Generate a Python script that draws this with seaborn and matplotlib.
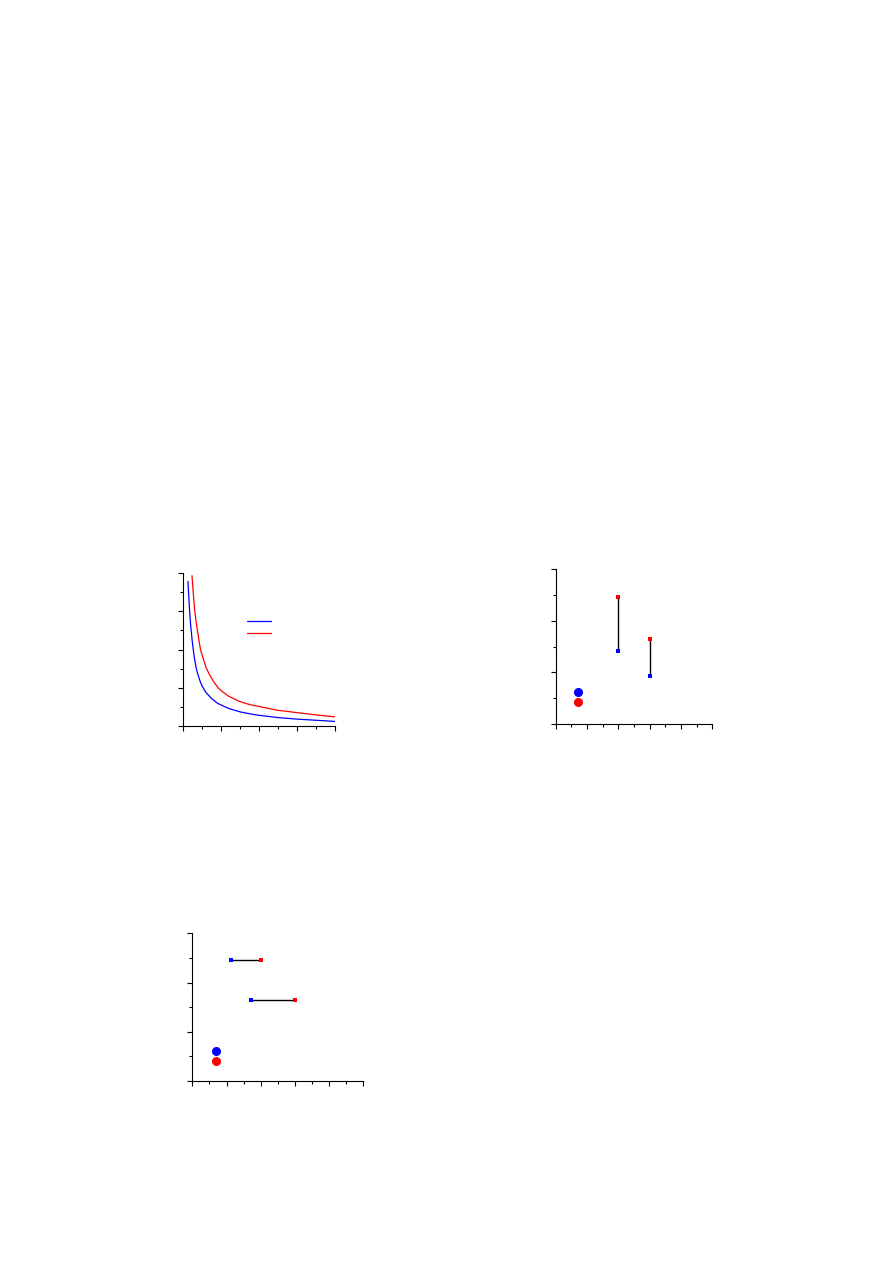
import matplotlib
matplotlib.use("Agg")
import matplotlib.pyplot as plt
from matplotlib.lines import Line2D
from matplotlib.ticker import MultipleLocator, NullFormatter
import seaborn as sns
import pandas as pd

sns.set_theme(style="ticks")
plt.rcParams['font.family'] = ['DejaVu Sans']

# Panel 1: two decaying curves
blue_x = [0.13, 0.14, 0.155, 0.175, 0.20, 0.22, 0.245, 0.27, 0.30, 0.35, 0.40, 0.45,
          0.50, 0.60, 0.75, 0.90, 1.00, 1.20, 1.50, 1.75, 2.00, 2.50, 3.00, 3.50, 4.00]
blue_y = [3.78, 3.60, 3.35, 3.00, 2.65, 2.45, 2.20, 2.00, 1.78, 1.50, 1.32, 1.17,
          1.05, 0.88, 0.72, 0.60, 0.55, 0.46, 0.37, 0.32, 0.28, 0.22, 0.18, 0.15, 0.12]
red_x = [0.237, 0.25, 0.27, 0.29, 0.31, 0.34, 0.38, 0.42, 0.46, 0.52, 0.61, 0.70,
         0.80, 0.92, 1.05, 1.20, 1.49, 1.75, 2.00, 2.50, 3.00, 3.50, 4.00]
red_y = [3.93, 3.75, 3.48, 3.24, 3.00, 2.76, 2.50, 2.24, 2.00, 1.80, 1.52, 1.34,
         1.17, 1.00, 0.89, 0.78, 0.64, 0.56, 0.51, 0.41, 0.35, 0.29, 0.24]

# Panel 2: vertical pairs
p2_x = [2.0, 3.0]
p2_blue = [1.42, 0.94]
p2_red = [2.46, 1.64]

# Panel 3: horizontal pairs
p3_y = [2.46, 1.64]
p3_blue = [1.14, 1.72]
p3_red = [2.0, 3.0]

BLUE = "#0000ff"
RED = "#ff0000"

W, H = 893, 1263
fig = plt.figure(figsize=(W / 100, H / 100), dpi=100)


def style_axes(ax, xmax, ymax, xmaj, ymaj):
    ax.set_xlim(0, xmax)
    ax.set_ylim(0, ymax)
    ax.xaxis.set_major_locator(MultipleLocator(xmaj))
    ax.xaxis.set_minor_locator(MultipleLocator(xmaj / 2))
    ax.yaxis.set_major_locator(MultipleLocator(ymaj))
    ax.yaxis.set_minor_locator(MultipleLocator(ymaj / 2))
    for a in (ax.xaxis, ax.yaxis):
        a.set_major_formatter(NullFormatter())
        a.set_minor_formatter(NullFormatter())
    ax.tick_params(which="major", direction="out", length=3.6, width=0.8, color="black")
    ax.tick_params(which="minor", direction="out", length=2.0, width=0.8, color="black")
    for s in ("top", "right"):
        ax.spines[s].set_visible(False)
    for s in ("left", "bottom"):
        ax.spines[s].set_color("black")
        ax.spines[s].set_linewidth(0.8)
    ax.set_xlabel("")
    ax.set_ylabel("")
    ax.set_facecolor("white")


# ---------- Panel 1 ----------
ax1 = fig.add_axes([183 / W, 1 - 726 / H, 152 / W, 153 / H])
df_b = pd.DataFrame({"x": blue_x, "y": blue_y})
df_r = pd.DataFrame({"x": red_x, "y": red_y})
sns.lineplot(data=df_b, x="x", y="y", ax=ax1, color=BLUE, lw=0.9, estimator=None)
sns.lineplot(data=df_r, x="x", y="y", ax=ax1, color=RED, lw=0.9, estimator=None)
style_axes(ax1, 4, 4, 1, 1)
h1 = [Line2D([], [], color=BLUE, lw=0.9), Line2D([], [], color=RED, lw=0.9)]
ax1.legend(h1, ["", ""], loc="upper left", bbox_to_anchor=(0.38, 0.75), frameon=False,
           fontsize=6, handlelength=2.9, labelspacing=0.31, borderpad=0.2, handletextpad=0.2)

# ---------- Panel 2 ----------
ax2 = fig.add_axes([555.7 / W, 1 - 724 / H, 156.6 / W, 154.7 / H])
for xv, yb, yr in zip(p2_x, p2_blue, p2_red):
    ax2.vlines(xv, yb, yr, color="black", lw=1.0, zorder=2)
sns.scatterplot(x=p2_x, y=p2_blue, ax=ax2, color=BLUE, marker="s", s=10, linewidth=0, zorder=3)
sns.scatterplot(x=p2_x, y=p2_red, ax=ax2, color=RED, marker="s", s=10, linewidth=0, zorder=3)
style_axes(ax2, 5, 3, 1, 1)
h2 = [Line2D([], [], color=BLUE, marker="o", ls="", markersize=5.5),
      Line2D([], [], color=RED, marker="o", ls="", markersize=5.5)]
ax2.legend(h2, ["", ""], loc="upper left", bbox_to_anchor=(0.077, 0.27), frameon=False,
           fontsize=6, handlelength=1.0, labelspacing=0.15, borderpad=0.2, handletextpad=0.2)

# ---------- Panel 3 ----------
ax3 = fig.add_axes([192.3 / W, 1 - 1081 / H, 171 / W, 147.7 / H])
for yv, xb, xr in zip(p3_y, p3_blue, p3_red):
    ax3.hlines(yv, xb, xr, color="black", lw=1.0, zorder=2)
sns.scatterplot(x=p3_blue, y=p3_y, ax=ax3, color=BLUE, marker="s", s=10, linewidth=0, zorder=3)
sns.scatterplot(x=p3_red, y=p3_y, ax=ax3, color=RED, marker="s", s=10, linewidth=0, zorder=3)
style_axes(ax3, 5, 3, 1, 1)
ax3.legend(h2, ["", ""], loc="upper left", bbox_to_anchor=(0.078, 0.27), frameon=False,
           fontsize=6, handlelength=1.0, labelspacing=0.15, borderpad=0.2, handletextpad=0.2)

fig.savefig("out.png", dpi=100, facecolor="white")
